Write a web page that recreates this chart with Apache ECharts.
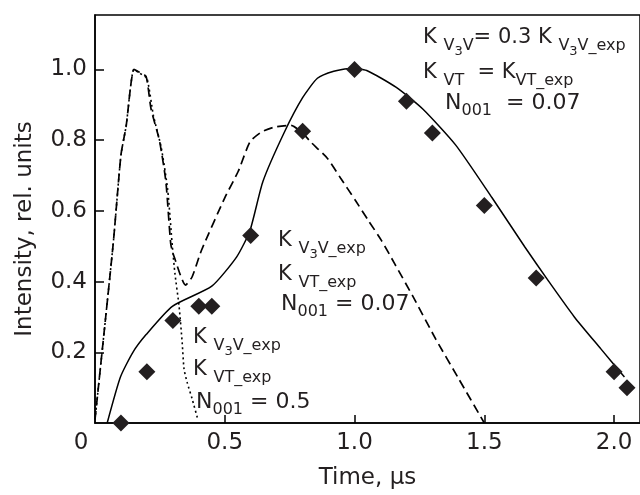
<!DOCTYPE html>
<html>
<head>
<meta charset="utf-8">
<script src="https://cdn.jsdelivr.net/npm/echarts@6/dist/echarts.min.js"></script>
<style>
    html, body { margin: 0; padding: 0; background: #fff; }
    #main { width: 640px; height: 495px; }
</style>
</head>
<body>
<div id="main"></div>
<script>
// measured points (diamonds)
const expTime = [0.10, 0.20, 0.30, 0.40, 0.45, 0.60, 0.80, 1.00, 1.20, 1.30, 1.50, 1.70, 2.00, 2.05]
const expIntensity = [0.00, 0.145, 0.29, 0.33, 0.33, 0.53, 0.825, 1.00, 0.91, 0.82, 0.615, 0.41, 0.145, 0.10]

// solid: K_V3V = 0.3 K_V3V_exp, N001 = 0.07
const solidTime = [0.047, 0.098, 0.146, 0.197, 0.298, 0.45, 0.546, 0.597, 0.647, 0.73, 0.80, 0.857, 0.92, 0.984, 1.047, 1.161, 1.263, 1.39, 1.53, 1.657, 1.745, 1.847, 1.95, 2.04]
const solidIntensity = [0.0, 0.13, 0.20, 0.25, 0.33, 0.387, 0.47, 0.544, 0.683, 0.823, 0.92, 0.975, 0.995, 1.003, 0.997, 0.949, 0.888, 0.786, 0.637, 0.497, 0.404, 0.30, 0.209, 0.13]

// dashed: K_exp, N001 = 0.07
const dashTime = [0.0, 0.07, 0.10, 0.12, 0.15, 0.171, 0.197, 0.216, 0.248, 0.273, 0.292, 0.305, 0.349, 0.374, 0.41, 0.50, 0.552, 0.597, 0.641, 0.692, 0.755, 0.80, 0.831, 0.895, 0.946, 1.003, 1.054, 1.104, 1.155, 1.225, 1.314, 1.40, 1.50]
const dashIntensity = [0.01, 0.506, 0.758, 0.84, 1.0, 0.992, 0.98, 0.888, 0.80, 0.683, 0.506, 0.47, 0.39, 0.413, 0.488, 0.637, 0.712, 0.795, 0.823, 0.837, 0.842, 0.82, 0.795, 0.749, 0.693, 0.63, 0.572, 0.516, 0.45, 0.358, 0.236, 0.127, 0.0]

// dotted: K_exp, N001 = 0.5
const dotTime = [0.0, 0.07, 0.10, 0.12, 0.15, 0.171, 0.20, 0.225, 0.255, 0.28, 0.298, 0.308, 0.324, 0.336, 0.343, 0.355, 0.374, 0.397]
const dotIntensity = [0.01, 0.506, 0.758, 0.84, 1.0, 0.99, 0.975, 0.87, 0.78, 0.66, 0.50, 0.423, 0.33, 0.227, 0.153, 0.115, 0.069, 0.008]

const xTicks = [0.5, 1.0, 1.5, 2.0]
const xLabels = [0, 0.5, 1.0, 1.5, 2.0]
const yTicks = [0.2, 0.4, 0.6, 0.8, 1.0]

const ink = '#231f20'
const font = '"DejaVu Sans", Verdana, sans-serif'

const pairs = (xs, ys) => xs.map((x, i) => [x, ys[i]])

const richStyles = {
    k: { fontSize: 21, lineHeight: 21, verticalAlign: 'top', fontFamily: font, fill: ink, color: ink },
    n: { fontSize: 22, lineHeight: 22, verticalAlign: 'top', fontFamily: font, fill: ink, color: ink },
    s: { fontSize: 16, lineHeight: 16, verticalAlign: 'top', padding: [11, 0, 0, 0], fontFamily: font, fill: ink, color: ink },
    ss: { fontSize: 13, lineHeight: 13, verticalAlign: 'top', padding: [18, 0, 0, 0], fontFamily: font, fill: ink, color: ink },
}

const note = (left, top, text) => ({
    type: 'text',
    left: left,
    top: top,
    style: { text: text, rich: richStyles, fill: ink, font: '21px ' + font },
})

const chart = echarts.init(document.getElementById('main'))

chart.setOption({
    animation: false,
    grid: {
        left: 95,
        top: 15,
        width: 551,
        bottom: 67,
        show: true,
        borderColor: '#000',
        borderWidth: 1.5,
    },
    xAxis: {
        type: 'value',
        min: 0,
        max: 2.1,
        name: 'Time, μs',
        nameLocation: 'middle',
        nameGap: 44,
        nameTextStyle: { color: ink, fontSize: 23, fontFamily: font },
        axisLine: { lineStyle: { color: '#000', width: 1.5 } },
        axisTick: { inside: true, length: 8, customValues: xTicks, lineStyle: { color: '#000', width: 1.5 } },
        axisLabel: {
            customValues: xLabels,
            color: ink,
            fontSize: 23,
            fontFamily: font,
            margin: 9,
            formatter: (v) => (v === 0 ? '{z|0}' : v.toFixed(1)),
            rich: { z: { fontSize: 23, fontFamily: font, color: ink, padding: [0, 28, 0, 0] } },
        },
        splitLine: { show: false },
    },
    yAxis: {
        type: 'value',
        min: 0,
        max: 1.154,
        name: 'Intensity, rel. units',
        nameLocation: 'middle',
        nameGap: 58,
        nameTextStyle: { color: ink, fontSize: 23, fontFamily: font, padding: [0, 20, 0, 0] },
        axisLine: { lineStyle: { color: '#000', width: 1.5 } },
        axisTick: { inside: true, length: 9, customValues: yTicks, lineStyle: { color: '#000', width: 1.5 } },
        axisLabel: {
            customValues: yTicks,
            color: ink,
            fontSize: 23,
            fontFamily: font,
            margin: 8,
            formatter: (v) => v.toFixed(1),
        },
        splitLine: { show: false },
    },
    series: [
        {
            type: 'line',
            data: pairs(solidTime, solidIntensity),
            showSymbol: false,
            smooth: 0.2,
            lineStyle: { color: '#000', width: 1.5 },
            z: 2,
        },
        {
            type: 'line',
            data: pairs(dashTime, dashIntensity),
            showSymbol: false,
            smooth: 0.2,
            lineStyle: { color: '#000', width: 1.7, type: [9, 5] },
            z: 2,
        },
        {
            type: 'line',
            data: pairs(dotTime, dotIntensity),
            showSymbol: false,
            smooth: 0.2,
            lineStyle: { color: '#000', width: 1.6, type: [2, 3] },
            z: 2,
        },
        {
            type: 'scatter',
            data: pairs(expTime, expIntensity),
            symbol: 'diamond',
            symbolSize: 17,
            itemStyle: { color: ink, opacity: 1 },
            z: 3,
        },
    ],
    graphic: [
        note(423, 27, '{k|K }{s|V}{ss|3}{s|V}{k|= 0.3 K }{s|V}{ss|3}{s|V_exp}'),
        note(423, 62, '{k|K }{s|VT}{k|  = K}{s|VT_exp}'),
        note(445, 92, '{n|N}{s|001}{n|  = 0.07}'),
        note(278, 230, '{k|K }{s|V}{ss|3}{s|V_exp}'),
        note(278, 264, '{k|K }{s|VT_exp}'),
        note(281, 293, '{n|N}{s|001}{n| = 0.07}'),
        note(193, 327, '{k|K }{s|V}{ss|3}{s|V_exp}'),
        note(193, 359, '{k|K }{s|VT_exp}'),
        note(196, 391, '{n|N}{s|001}{n| = 0.5}'),
    ],
})
</script>
</body>
</html>
